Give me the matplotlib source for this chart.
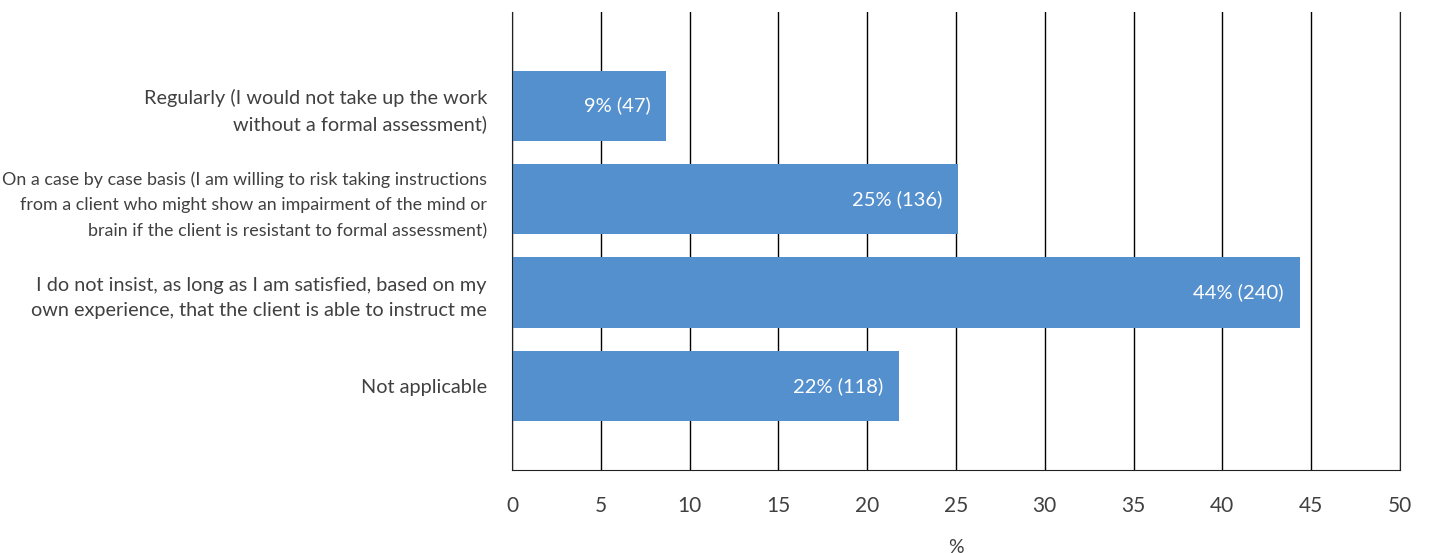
import matplotlib
matplotlib.use("Agg")
import matplotlib.pyplot as plt
import numpy as np

# Survey responses: how often a formal capacity assessment is insisted upon
categories = [
    "Regularly (I would not take up the work\nwithout a formal assessment)",
    "On a case by case basis (I am willing to risk taking instructions\n"
    "from a client who might show an impairment of the mind or\n"
    "brain if the client is resistant to formal assessment)",
    "I do not insist, as long as I am satisfied, based on my\n"
    "own experience, that the client is able to instruct me",
    "Not applicable",
]
counts = [47, 136, 240, 118]
pct_labels = ["9%", "25%", "44%", "22%"]

percent = 100 * np.array(counts) / sum(counts)

plt.rcParams["font.family"] = ["Lato", "DejaVu Sans"]
text_color = "#404040"

fig = plt.figure(figsize=(14.3, 5.53), dpi=100)
ax = fig.add_axes([0.358, 0.150, 0.621, 0.828])

y = np.arange(len(categories))
bars = ax.barh(y, percent, height=0.75, color="#5490cd", zorder=2)

for bar, pl, n in zip(bars, pct_labels, counts):
    ax.text(bar.get_width() - 0.9, bar.get_y() + bar.get_height() / 2,
            f"{pl} ({n})", ha="right", va="center", color="white",
            fontsize=14.5, zorder=3)

ax.set_xlim(0, 50)
ax.set_ylim(3.9, -1.0)
ax.set_xticks(np.arange(0, 51, 5))
ax.set_yticks(y)
ax.set_yticklabels(categories, fontsize=14.3, color=text_color, linespacing=1.55)
# the long three-line label is set tighter so it fits the margin
ax.get_yticklabels()[1].set_fontsize(12.9)
ax.get_yticklabels()[1].set_linespacing(1.72)
ax.tick_params(axis="x", length=0, pad=19, labelsize=15, labelcolor=text_color)
ax.tick_params(axis="y", length=0, pad=18)

ax.grid(axis="x", color="black", linewidth=1.0, zorder=1)
ax.set_axisbelow(True)
ax.spines["top"].set_visible(False)
for side in ["left", "bottom", "right"]:
    ax.spines[side].set_color("#222222")

ax.set_xlabel("%", fontsize=14, color=text_color, labelpad=16)

fig.savefig("out.png", dpi=100)
